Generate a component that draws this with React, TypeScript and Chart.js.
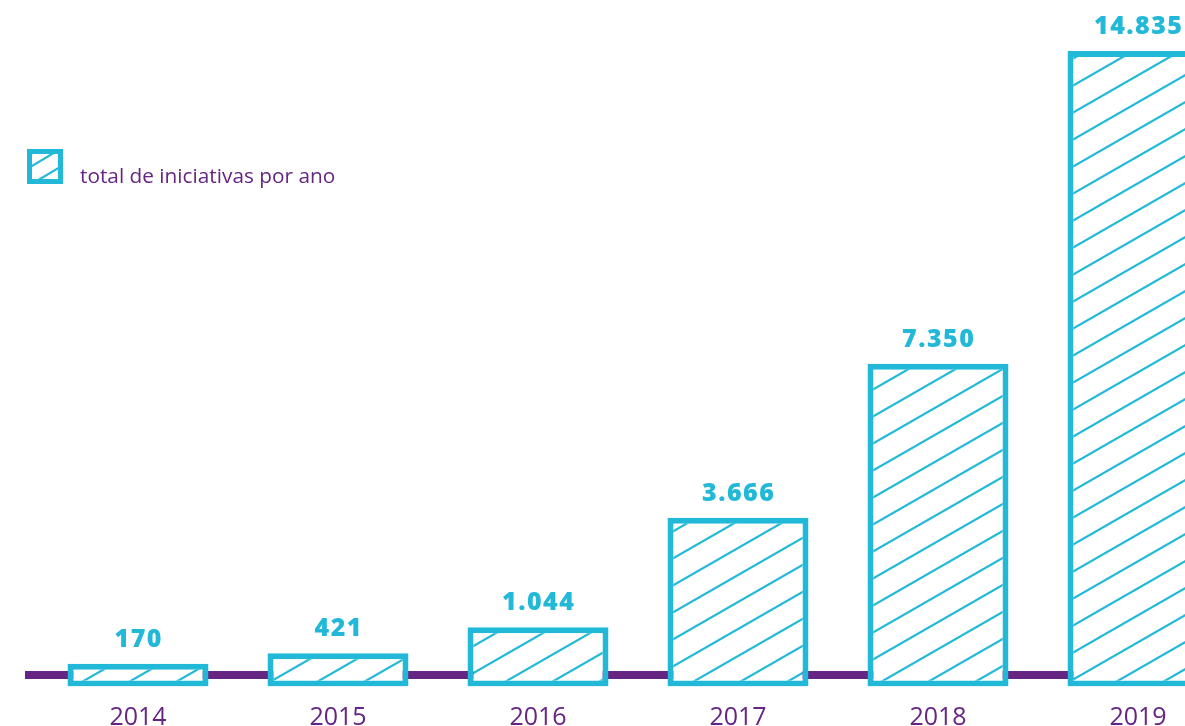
import React, { useEffect, useRef } from "react";
import { Chart, registerables } from "chart.js";

Chart.register(...registerables);

const years: string[] = ["2014", "2015", "2016", "2017", "2018", "2019"];
const initiatives: number[] = [170, 421, 1044, 3666, 7350, 14835];
const seriesLabel = "total de iniciativas por ano";

const CYAN = "#22b9d8";
const PURPLE = "#662483";
const AXIS_FLOOR = -375;
const AXIS_CEIL = 15000;

function fmt(n: number): string {
  return String(n).replace(/\B(?=(\d{3})+(?!\d))/g, ".");
}

function makePattern(ctx: CanvasRenderingContext2D): CanvasPattern | string {
  const W = 47, H = 27;
  const c = document.createElement("canvas");
  c.width = W;
  c.height = H;
  const g = c.getContext("2d");
  if (!g) return "#fff";
  g.fillStyle = "#ffffff";
  g.fillRect(0, 0, W, H);
  g.strokeStyle = CYAN;
  g.lineWidth = 2.2;
  for (const dy of [-H, 0, H]) {
    g.beginPath();
    g.moveTo(-W, 2 * H + dy);
    g.lineTo(2 * W, -H + dy);
    g.stroke();
  }
  return ctx.createPattern(c, "repeat") || "#fff";
}

const decorPlugin = {
  id: "decor",
  beforeDatasetsDraw(chart: any) {
    const { ctx, chartArea } = chart;
    ctx.save();
    ctx.fillStyle = PURPLE;
    ctx.fillRect(25, chartArea.bottom - 15.5, chart.width, 8);
    ctx.restore();
  },
  afterDatasetsDraw(chart: any) {
    const { ctx } = chart;
    const meta = chart.getDatasetMeta(0);
    const data = chart.data.datasets[0].data as number[];
    ctx.save();
    ctx.font = "800 25px 'Open Sans'";
    (ctx as any).letterSpacing = "1.5px";
    ctx.textAlign = "center";
    ctx.textBaseline = "alphabetic";
    ctx.fillStyle = CYAN;
    meta.data.forEach((el: any, i: number) => {
      ctx.fillText(fmt(data[i]), el.x + 0.75, el.y - 17);
    });
    ctx.restore();
  },
  afterDraw(chart: any) {
    const { ctx } = chart;
    const x = 27, y = 149, w = 36, h = 35, b = 5;
    ctx.save();
    ctx.fillStyle = CYAN;
    ctx.fillRect(x, y, w, h);
    ctx.fillStyle = "#ffffff";
    ctx.fillRect(x + b, y + b, w - 2 * b, h - 2 * b);
    ctx.beginPath();
    ctx.rect(x + b, y + b, w - 2 * b, h - 2 * b);
    ctx.clip();
    ctx.strokeStyle = CYAN;
    ctx.lineWidth = 2.2;
    ctx.beginPath();
    ctx.moveTo(x, y + 20);
    ctx.lineTo(x + 30, y + 2);
    ctx.moveTo(x + 8, y + 33);
    ctx.lineTo(x + 38, y + 15);
    ctx.stroke();
    ctx.restore();
    ctx.save();
    ctx.font = "20.8px 'Open Sans'";
    ctx.fillStyle = PURPLE;
    ctx.textAlign = "left";
    ctx.textBaseline = "alphabetic";
    ctx.fillText(chart.data.datasets[0].label, 80, 183);
    ctx.restore();
  },
};

export default function App() {
  const ref = useRef<HTMLCanvasElement | null>(null);
  useEffect(() => {
    const canvas = ref.current;
    if (!canvas) return;
    const ctx = canvas.getContext("2d");
    if (!ctx) return;
    const pattern = makePattern(ctx);
    const chart = new Chart(canvas, {
      type: "bar",
      data: {
        labels: years,
        datasets: [
          {
            label: seriesLabel,
            data: initiatives,
            base: AXIS_FLOOR,
            backgroundColor: pattern as any,
            borderColor: CYAN,
            borderWidth: 6,
            borderSkipped: false,
            barPercentage: 0.705,
            categoryPercentage: 1,
          } as any,
        ],
      },
      options: {
        animation: false,
        responsive: false,
        maintainAspectRatio: false,
        layout: { padding: { left: 38, right: 2, top: 44, bottom: 0 } },
        plugins: { legend: { display: false }, tooltip: { enabled: false } },
        scales: {
          x: {
            grid: { display: false, drawTicks: false },
            border: { display: false },
            ticks: {
              color: PURPLE,
              padding: 20,
              font: { family: "'Open Sans'", size: 25, lineHeight: 0.9 },
            },
          },
          y: {
            display: false,
            min: AXIS_FLOOR,
            max: AXIS_CEIL,
          },
        },
      },
      plugins: [decorPlugin],
    });
    return () => chart.destroy();
  }, []);
  return (
    <div
      style={{
        position: "fixed",
        left: 0,
        top: 0,
        width: 1185,
        height: 726,
        overflow: "hidden",
        background: "#ffffff",
      }}
    >
      <canvas ref={ref} width={1240} height={749} style={{ width: 1240, height: 749, display: "block" }} />
    </div>
  );
}
